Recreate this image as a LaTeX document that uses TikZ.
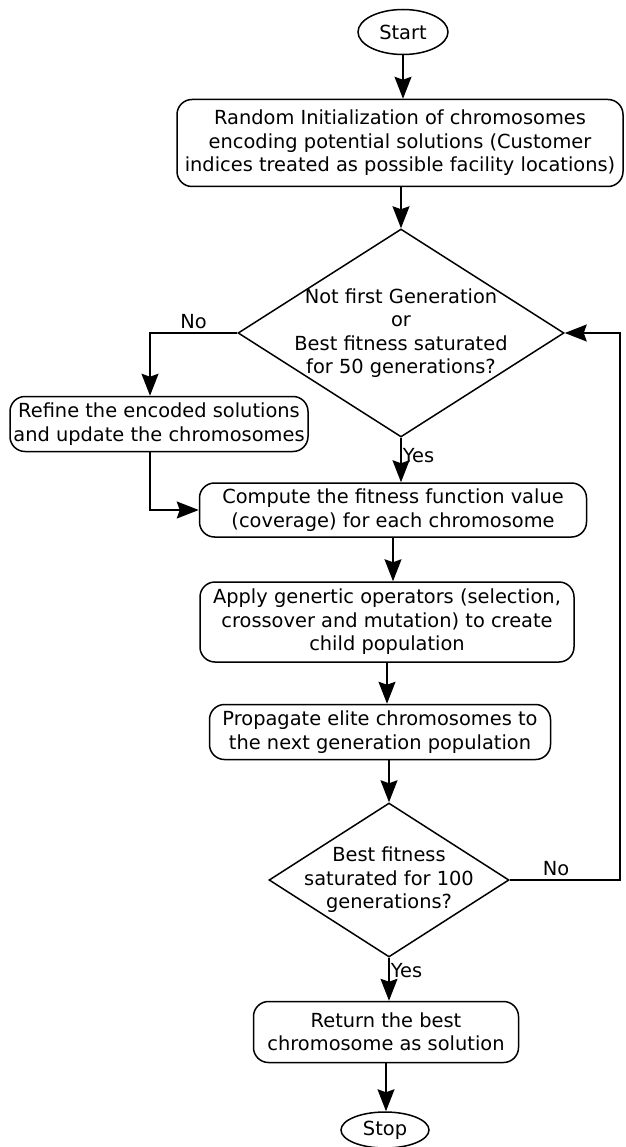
\documentclass[tikz,border=0pt]{standalone}
\usepackage{fontspec}
\setmainfont{DejaVu Sans}
\usetikzlibrary{shapes.geometric,arrows.meta}
\begin{document}
\begin{tikzpicture}[x=1pt,y=-1pt,
  every node/.style={font=\fontsize{19.4pt}{23.5pt}\selectfont},
  term/.style={draw,ellipse,line width=1.5pt,minimum width=90pt,minimum height=45pt,inner sep=0pt},
  proc/.style={draw,rounded corners=15pt,line width=1.5pt,align=center,inner sep=0pt},
  dec/.style={draw,diamond,line width=1.5pt,inner sep=0pt},
  txt/.style={align=center,inner sep=0pt},
  lbl/.style={inner sep=0pt},
  flow/.style={line width=1.6pt,-{Stealth[length=22pt,width=17pt,inset=3pt]}}]
\useasboundingbox (0,0) rectangle (625,1147);
\node[term] (start) at (403,32) {Start};
\node[proc,minimum width=446pt,minimum height=87pt] (init) at (400,143)
  {Random Initialization of chromosomes\\encoding potential solutions (Customer\\indices treated as possible facility locations)};
\node[dec,minimum width=326pt,minimum height=208pt] (d1) at (401,333) {};
\node[txt] (d1t) at (d1.center) {Not first Generation\\or\\Best fitness saturated\\for 50 generations?};
\node[proc,minimum width=298pt,minimum height=55pt] (refine) at (159,424)
  {Refine the encoded solutions\\and update the chromosomes};
\node[proc,minimum width=387pt,minimum height=54pt] (compute) at (393,510)
  {Compute the fitness function value\\(coverage) for each chromosome};
\node[proc,minimum width=374pt,minimum height=80pt] (apply) at (387,622)
  {Apply genertic operators (selection,\\crossover and mutation) to create\\child population};
\node[proc,minimum width=341pt,minimum height=55pt] (prop) at (380,732)
  {Propagate elite chromosomes to\\the next generation population};
\node[dec,minimum width=240pt,minimum height=154pt] (d2) at (389,880) {};
\node[txt] (d2t) at (d2.center) {Best fitness\\saturated for 100\\generations?};
\node[proc,minimum width=265pt,minimum height=61pt] (ret) at (386,1032)
  {Return the best\\chromosome as solution};
\node[term,minimum width=88pt,minimum height=36pt] (stop) at (385,1130) {Stop};

\coordinate (loopx) at (620,0);
\draw[flow] (start.south) -- (start.south |- init.north);
\draw[flow] (init.south -| d1.north) -- (d1.north);
\draw[flow] (d1.west) -| ([xshift=-9pt]refine.north) node[lbl,pos=0.25,above=3pt] (no1) {No};
\draw[flow] ([xshift=-9pt]refine.south) |- (compute.west);
\draw[flow] (d1.south) -- (d1.south |- compute.north) node[lbl,pos=0.4,anchor=west,xshift=1pt] (yes1) {Yes};
\draw[flow] (compute.south) -- (compute.south |- apply.north);
\draw[flow] (apply.south) -- (apply.south |- prop.north);
\draw[flow] (prop.south -| d2.north) -- (d2.north);
\draw[flow] (d2.east) -- (d2.east -| loopx) node[lbl,pos=0.42,above=3pt] (no2) {No} |- (d1.east);
\draw[flow] (d2.south) -- (d2.south |- ret.north) node[lbl,pos=0.3,anchor=west,xshift=1pt] (yes2) {Yes};
\draw[flow] (ret.south) -- (ret.south |- stop.north);
\end{tikzpicture}
\end{document}
